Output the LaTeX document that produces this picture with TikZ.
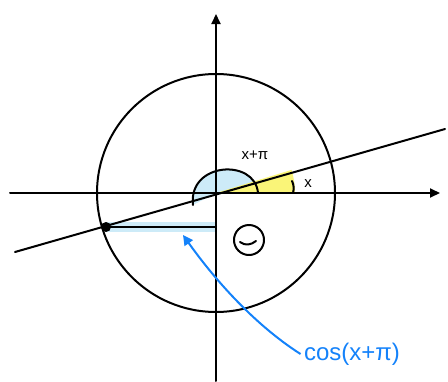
\documentclass[tikz,border=0pt]{standalone}
\usepackage{fontspec}
\setmainfont{Liberation Sans}
\usetikzlibrary{arrows.meta}
\definecolor{lblue}{RGB}{205,235,248}
\definecolor{hyel}{RGB}{250,245,120}
\definecolor{pblue}{RGB}{20,130,250}
\tikzset{
  ink/.style={line width=2pt, black, line cap=round, line join=round},
  axisarrow/.style={ink, -{Triangle[length=10pt,width=9pt]}},
  lbl/.style={font=\fontsize{15}{18}\selectfont},
}
\begin{document}
\begin{tikzpicture}[x=1pt,y=-1pt]
\useasboundingbox (0,0) rectangle (448,381);
\coordinate (O) at (216,193);
% blue half-disc for x+pi
\fill[lblue] (193,205) .. controls (188,162) and (255,158) .. (258,193) -- (216,193) -- cycle;
% yellow angle x
\fill[hyel] (O) -- (295,193) arc[start angle=0, end angle=-17, radius=79] -- cycle;
% blue highlight for cos
\fill[lblue] (106,222) rectangle (216,232);
% axes
\coordinate (xl) at (10,193);
\coordinate (xr) at (440,193);
\coordinate (yb) at (216,381);
\coordinate (yt) at (216,14);
\draw[axisarrow] (xl) -- (xr);
\draw[axisarrow] (yb) -- (yt);
% circle
\draw[ink] (O) circle[radius=119];
% line through origin
\coordinate (la) at (15,252);
\coordinate (lb) at (445,129);
\draw[ink] (la) -- (lb);
% point
\coordinate (P) at (106,227);
\fill (P) circle[radius=5];
% cos segment
\draw[ink] (P) -- (216,227);
% arc for x+pi
\draw[ink] (193,205) .. controls (188,162) and (255,158) .. (258,193);
% arc for x
\draw[ink] (292,181) .. controls (294,185) and (294,189) .. (293,193);
% labels
\node[lbl] (xpi) at (255,155) {x+π};
\node[lbl] (xl2) at (308,184) {x};
% minus in circle
\node[draw, ink, circle, minimum size=30pt, inner sep=0pt] (neg) at (249,240) {};
\draw[ink] (240,242) .. controls (245,246) and (251,245) .. (256,241);
% blue annotation
\node[text=pblue, font=\fontsize{24}{28}\selectfont] (cos) at (352,354) {cos(x+π)};
\draw[pblue, line width=2pt, -{Triangle[length=10pt,width=10pt]}] (cos.west) .. controls (255,325) and (215,280) .. (183,235);
\end{tikzpicture}
\end{document}
